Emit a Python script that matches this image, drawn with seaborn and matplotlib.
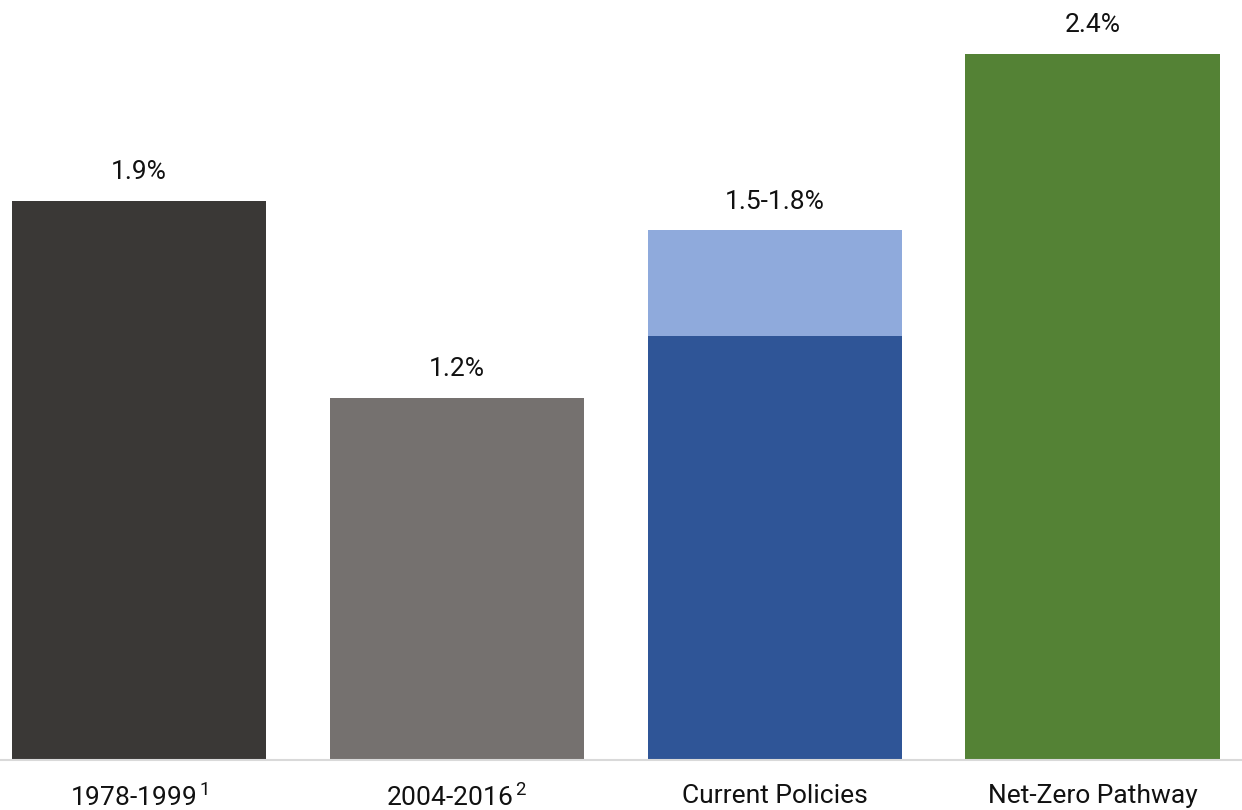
import matplotlib
matplotlib.use("Agg")
import matplotlib.pyplot as plt
import seaborn as sns
import pandas as pd

categories = ["1978-1999$\\,^{1}$", "2004-2016$\\,^{2}$", "Current Policies", "Net-Zero Pathway"]
base_values = [1.9, 1.23, 1.44, 2.4]
total_values = [1.9, 1.23, 1.8, 2.4]
value_labels = ["1.9%", "1.2%", "1.5-1.8%", "2.4%"]
base_colors = ["#3a3836", "#75716f", "#2f5597", "#548235"]
total_colors = ["#3a3836", "#75716f", "#8faadc", "#548235"]

sns.set_theme(style="white")
plt.rcParams["font.family"] = ["Roboto", "DejaVu Sans"]
plt.rcParams["mathtext.fontset"] = "custom"
plt.rcParams["mathtext.rm"] = "Roboto"
plt.rcParams["mathtext.it"] = "Roboto"
plt.rcParams["mathtext.bf"] = "Roboto"

df = pd.DataFrame({"cat": categories, "base": base_values, "total": total_values})

fig = plt.figure(figsize=(12.42, 8.10), dpi=100)
ax = fig.add_axes([0, 50 / 810, 1, 760 / 810])

sns.barplot(data=df, x="cat", y="total", hue="cat", palette=total_colors,
            width=0.8, saturation=1, legend=False, linewidth=0, ax=ax)
sns.barplot(data=df, x="cat", y="base", hue="cat", palette=base_colors,
            width=0.8, saturation=1, legend=False, linewidth=0, ax=ax)

for i, (v, lab) in enumerate(zip(total_values, value_labels)):
    ax.annotate(lab, (i, v), xytext=(0, 12), textcoords="offset points",
                ha="center", va="bottom", fontsize=19, color="#111111")

ax.set_xlim(-0.4377, 3.470)
ax.set_ylim(0, 2.583)
ax.set_xlabel("")
ax.set_ylabel("")
ax.set_yticks([])
ax.tick_params(axis="x", length=0, pad=17, labelsize=19, labelcolor="#111111")
for s in ["top", "right", "left"]:
    ax.spines[s].set_visible(False)
ax.spines["bottom"].set_color("#d9d9d9")
ax.spines["bottom"].set_linewidth(1.5)

fig.savefig("out.png", dpi=100)
